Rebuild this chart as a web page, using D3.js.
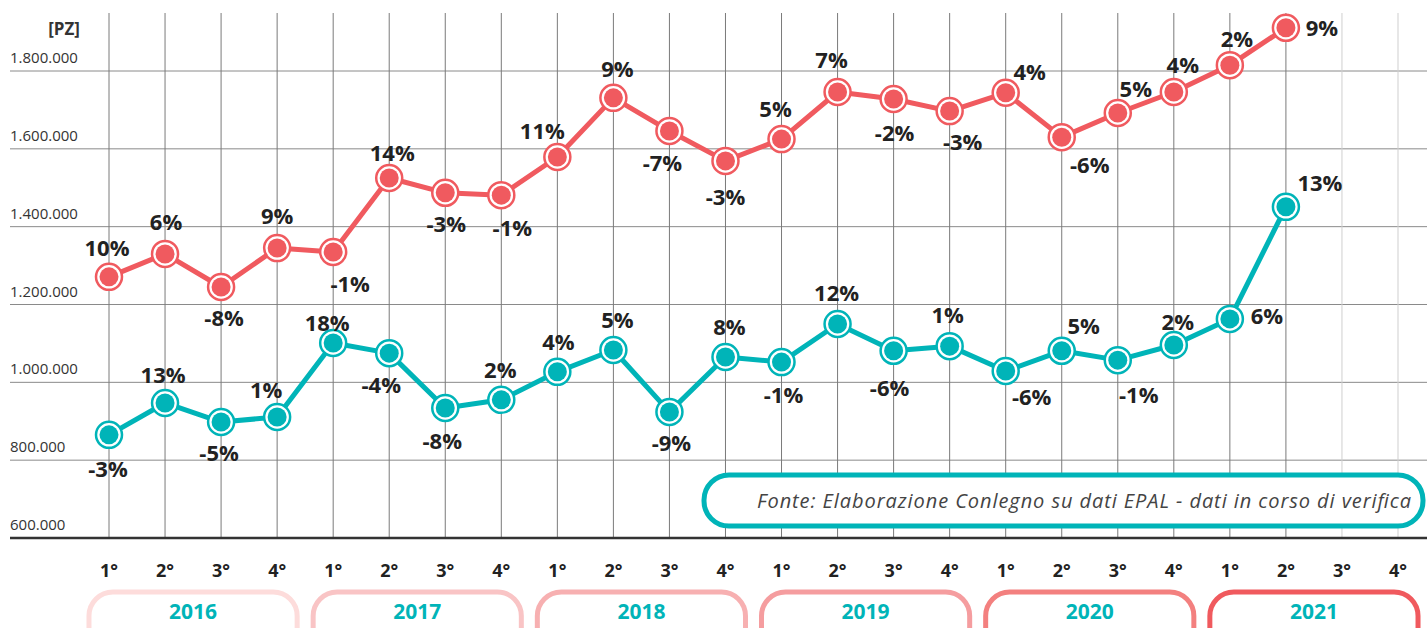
<!DOCTYPE html>
<html lang="it">
<head>
    <meta charset="UTF-8">
    <title>Pallet EPAL</title>
</head>
<style>
    body { margin: 0; background: #fff; }
    svg text { font-family: "Open Sans", sans-serif; }
</style>
<script src="https://cdn.jsdelivr.net/npm/d3@7"></script>
<body>
    <div id="graphic"></div>
</body>
<script>
    // data
    var years = [2016, 2017, 2018, 2019, 2020, 2021];
    var quarters = ["1°", "2°", "3°", "4°"];
    var yTicks = [600000, 800000, 1000000, 1200000, 1400000, 1600000, 1800000];

    var redValues = [1271000, 1330000, 1245000, 1345000, 1335000, 1525000, 1487000, 1481000,
                     1579000, 1731000, 1646000, 1569000, 1625000, 1746000, 1728000, 1697000,
                     1744000, 1630000, 1692000, 1746000, 1815000, 1911000];
    var redChanges = ["10%", "6%", "-8%", "9%", "-1%", "14%", "-3%", "-1%",
                      "11%", "9%", "-7%", "-3%", "5%", "7%", "-2%", "-3%",
                      "4%", "-6%", "5%", "4%", "2%", "9%"];

    var tealValues = [865000, 947000, 898000, 911000, 1101000, 1075000, 934000, 955000,
                      1027000, 1083000, 924000, 1065000, 1052000, 1150000, 1081000, 1093000,
                      1029000, 1081000, 1057000, 1096000, 1163000, 1451000];
    var tealChanges = ["-3%", "13%", "-5%", "1%", "18%", "-4%", "-8%", "2%",
                       "4%", "5%", "-9%", "8%", "-1%", "12%", "-6%", "1%",
                       "-6%", "5%", "-1%", "2%", "6%", "13%"];

    // label placement next to each point (dx, dy)
    var redLabelPos = [[-2,-29],[1,-32],[3,31],[0,-32],[17,32],[3,-25],[1,31],[11,33],
                       [-15,-26],[4,-29],[-7,32],[0,36],[-6,-30],[-6,-32],[1,34],[13,31],
                       [24,-20],[28,28],[18,-24],[9,-27],[7,-26],[36,0]];
    var tealLabelPos = [[-1,34],[-2,-28],[-2,31],[-11,-27],[-6,-20],[-8,32],[-3,33],[-1,-30],
                        [1,-30],[4,-30],[2,31],[4,-30],[2,33],[-1,-31],[-4,37],[-2,-31],
                        [26,26],[22,-25],[21,35],[4,-23],[37,-3],[34,-24]];

    var width = 1427;
    var height = 628;
    var red = "#f05a5f";
    var teal = "#00b4b8";
    var yearColors = ["#fddcdb", "#f9c4c5", "#f7b0b1", "#f59d9f", "#f3807f", "#f05a5e"];

    var slots = [];
    years.forEach(function(y) {
        quarters.forEach(function(q) { slots.push(y + "-" + q); });
    });

    var x = d3.scalePoint().domain(slots).range([109, 1398]);
    var y = d3.scaleLinear().domain([600000, 1800000]).range([538, 71]);
    var step = x.step();

    var svg = d3.select('#graphic')
                .append('svg')
                .attr('width', width)
                .attr('height', height);

    // horizontal grid
    svg.selectAll('.hgrid')
        .data(yTicks.slice(1))
        .join('line')
        .attr('class', 'hgrid')
        .attr('x1', 10).attr('x2', width)
        .attr('y1', function(d) { return y(d); })
        .attr('y2', function(d) { return y(d); })
        .attr('stroke', '#8a8a8a')
        .attr('stroke-width', 1);

    // vertical grid
    svg.selectAll('.vgrid')
        .data(slots)
        .join('line')
        .attr('class', 'vgrid')
        .attr('x1', function(d) { return x(d); })
        .attr('x2', function(d) { return x(d); })
        .attr('y1', 13).attr('y2', y(600000))
        .attr('stroke', function(d, i) { return i < redValues.length ? '#7a7a7a' : '#cfcfcf'; })
        .attr('stroke-width', 1);

    // source box
    var src = svg.append('g');
    src.append('rect')
        .attr('x', 704).attr('y', 475)
        .attr('width', 719).attr('height', 51)
        .attr('rx', 25)
        .attr('fill', '#fff')
        .attr('stroke', teal)
        .attr('stroke-width', 5);
    src.append('text')
        .attr('x', 1411).attr('y', 508)
        .attr('text-anchor', 'end')
        .attr('font-style', 'italic')
        .attr('font-size', 20)
        .attr('textLength', 654)
        .attr('lengthAdjust', 'spacing')
        .attr('fill', '#444')
        .text('Fonte: Elaborazione Conlegno su dati EPAL - dati in corso di verifica');

    // baseline
    svg.append('line')
        .attr('x1', 10).attr('x2', width)
        .attr('y1', y(600000)).attr('y2', y(600000))
        .attr('stroke', '#333')
        .attr('stroke-width', 2.5);

    // y tick labels
    svg.selectAll('.ylab')
        .data(yTicks)
        .join('text')
        .attr('class', 'ylab')
        .attr('x', 10)
        .attr('y', function(d) { return y(d) - 8; })
        .attr('font-size', 15)
        .attr('fill', '#333')
        .text(function(d) { return d3.format(",")(d).replace(/,/g, "."); });

    svg.append('text')
        .attr('x', 80).attr('y', 35)
        .attr('text-anchor', 'end')
        .attr('font-size', 17)
        .attr('font-weight', 'bold')
        .attr('fill', '#333')
        .text('[PZ]');

    // series
    function drawSeries(values, changes, pos, color) {
        var pts = values.map(function(v, i) { return { slot: slots[i], v: v, c: changes[i], p: pos[i] }; });
        var line = d3.line()
            .x(function(d) { return x(d.slot); })
            .y(function(d) { return y(d.v); });

        svg.append('path')
            .datum(pts)
            .attr('d', line)
            .attr('fill', 'none')
            .attr('stroke', color)
            .attr('stroke-width', 5)
            .attr('stroke-linejoin', 'round');

        var g = svg.append('g');
        g.selectAll('.ring')
            .data(pts)
            .join('circle')
            .attr('cx', function(d) { return x(d.slot); })
            .attr('cy', function(d) { return y(d.v); })
            .attr('r', 13)
            .attr('fill', '#fff')
            .attr('stroke', color)
            .attr('stroke-width', 2.5);
        g.selectAll('.dot')
            .data(pts)
            .join('circle')
            .attr('cx', function(d) { return x(d.slot); })
            .attr('cy', function(d) { return y(d.v); })
            .attr('r', 9.5)
            .attr('fill', color);

        g.selectAll('.lab')
            .data(pts)
            .join('text')
            .attr('x', function(d) { return x(d.slot) + d.p[0]; })
            .attr('y', function(d) { return y(d.v) + d.p[1]; })
            .attr('dy', '0.35em')
            .attr('text-anchor', 'middle')
            .attr('font-size', 22)
            .attr('font-weight', 'bold')
            .attr('fill', '#222')
            .text(function(d) { return d.c; });
    }

    drawSeries(tealValues, tealChanges, tealLabelPos, teal);
    drawSeries(redValues, redChanges, redLabelPos, red);

    // quarter labels
    svg.selectAll('.qlab')
        .data(slots)
        .join('text')
        .attr('class', 'qlab')
        .attr('x', function(d) { return x(d); })
        .attr('y', 577)
        .attr('text-anchor', 'middle')
        .attr('font-size', 18)
        .attr('font-weight', 'bold')
        .attr('fill', '#222')
        .text(function(d) { return d.split('-')[1]; });

    // year boxes
    var yg = svg.selectAll('.year')
        .data(years)
        .join('g')
        .attr('class', 'year');
    yg.append('rect')
        .attr('x', function(d) { return x(d + "-1°") - step / 2 + 8; })
        .attr('y', 592)
        .attr('width', step * 4 - 16)
        .attr('height', 60)
        .attr('rx', 24)
        .attr('fill', '#fff')
        .attr('stroke', function(d, i) { return yearColors[i]; })
        .attr('stroke-width', 5);
    yg.append('text')
        .attr('x', function(d) { return (x(d + "-1°") + x(d + "-4°")) / 2; })
        .attr('y', 619)
        .attr('text-anchor', 'middle')
        .attr('font-size', 21)
        .attr('font-weight', 'bold')
        .attr('fill', teal)
        .text(function(d) { return d; });
</script>
</html>
